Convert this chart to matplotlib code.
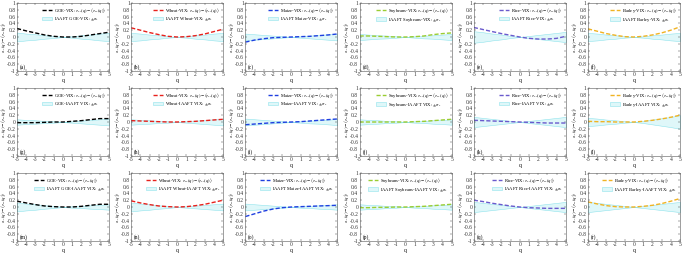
import numpy as np
import matplotlib
matplotlib.use('Agg')
from matplotlib import pyplot as plt

plt.rcParams['font.family'] = ['Liberation Serif', 'DejaVu Serif']
plt.rcParams['mathtext.fontset'] = 'stix'

# q values and curves
q = [-5, -4, -3, -2, -1, 0, 1, 2, 3, 4, 5]

names = ['GOE', 'Wheat', 'Maize', 'Soybeans', 'Rice', 'Barley']
colors = ['#000000', '#e8211c', '#1f3fe0', '#9acd32', '#6a5acd', '#f0b323']
letters = 'abcdefghijklmnopqr'

# row 1: original series
goe_1 = [0.25, 0.18, 0.12, 0.06, 0.02, 0.0, 0.0, 0.02, 0.06, 0.10, 0.14]
wheat_1 = [0.27, 0.20, 0.13, 0.07, 0.02, 0.0, 0.01, 0.04, 0.09, 0.16, 0.23]
maize_1 = [-0.15, -0.09, -0.05, -0.02, -0.01, 0.0, 0.01, 0.02, 0.04, 0.06, 0.09]
soy_1 = [0.03, 0.03, 0.02, 0.01, 0.0, 0.0, 0.01, 0.03, 0.07, 0.10, 0.12]
rice_1 = [0.28, 0.22, 0.16, 0.10, 0.05, 0.0, -0.04, -0.06, -0.06, -0.04, 0.02]
barley_1 = [0.24, 0.17, 0.10, 0.05, 0.01, 0.0, 0.02, 0.06, 0.12, 0.20, 0.30]

# row 2: VIX replaced by IAAFT surrogate
goe_2 = [-0.02, -0.02, -0.02, -0.01, 0.0, 0.0, 0.02, 0.04, 0.07, 0.10, 0.10]
wheat_2 = [0.04, 0.03, 0.02, 0.01, 0.0, 0.0, 0.01, 0.02, 0.04, 0.06, 0.08]
maize_2 = [-0.08, -0.06, -0.04, -0.02, -0.01, 0.0, 0.01, 0.03, 0.05, 0.07, 0.09]
soy_2 = [0.0, 0.0, 0.0, 0.0, 0.0, 0.0, 0.01, 0.02, 0.04, 0.06, 0.08]
rice_2 = [0.05, 0.04, 0.03, 0.02, 0.01, 0.0, -0.01, -0.02, -0.03, -0.03, -0.03]
barley_2 = [0.02, 0.01, 0.01, 0.0, 0.0, 0.0, 0.02, 0.05, 0.09, 0.14, 0.20]

# row 3: both IAAFT
goe_3 = [0.17, 0.12, 0.07, 0.03, 0.01, 0.0, 0.0, 0.02, 0.05, 0.08, 0.08]
wheat_3 = [0.18, 0.12, 0.07, 0.03, 0.01, 0.0, 0.01, 0.04, 0.08, 0.14, 0.20]
maize_3 = [-0.28, -0.20, -0.12, -0.06, -0.02, 0.0, 0.01, 0.02, 0.03, 0.04, 0.05]
soy_3 = [-0.02, -0.02, -0.01, -0.01, 0.0, 0.0, 0.01, 0.02, 0.04, 0.06, 0.08]
rice_3 = [0.20, 0.16, 0.11, 0.07, 0.03, 0.0, -0.02, -0.03, -0.04, -0.04, -0.04]
barley_3 = [0.15, 0.09, 0.04, 0.01, 0.0, 0.0, 0.02, 0.05, 0.10, 0.17, 0.25]

# sigma of the surrogate band
sig_goe_1 = [0.13, 0.10, 0.08, 0.05, 0.03, 0.0, 0.02, 0.05, 0.07, 0.10, 0.12]
sig_wheat_1 = [0.12, 0.10, 0.07, 0.05, 0.02, 0.0, 0.02, 0.05, 0.07, 0.10, 0.12]
sig_maize_1 = [0.10, 0.08, 0.06, 0.04, 0.02, 0.0, 0.02, 0.04, 0.06, 0.08, 0.10]
sig_soy_1 = [0.09, 0.07, 0.05, 0.04, 0.02, 0.0, 0.02, 0.04, 0.05, 0.07, 0.09]
sig_rice_1 = [0.17, 0.14, 0.10, 0.07, 0.03, 0.0, 0.03, 0.06, 0.09, 0.12, 0.15]
sig_barley_1 = [0.12, 0.10, 0.07, 0.05, 0.02, 0.0, 0.02, 0.05, 0.07, 0.10, 0.12]

sig_goe_2 = [0.08, 0.06, 0.05, 0.03, 0.02, 0.0, 0.02, 0.04, 0.06, 0.08, 0.10]
sig_wheat_2 = [0.08, 0.06, 0.05, 0.03, 0.02, 0.0, 0.02, 0.04, 0.06, 0.08, 0.10]
sig_maize_2 = [0.10, 0.08, 0.06, 0.04, 0.02, 0.0, 0.02, 0.04, 0.05, 0.07, 0.09]
sig_soy_2 = [0.08, 0.06, 0.05, 0.03, 0.02, 0.0, 0.02, 0.03, 0.05, 0.06, 0.08]
sig_rice_2 = [0.15, 0.12, 0.09, 0.06, 0.03, 0.0, 0.03, 0.06, 0.09, 0.12, 0.15]
sig_barley_2 = [0.12, 0.10, 0.07, 0.05, 0.02, 0.0, 0.03, 0.07, 0.11, 0.15, 0.20]

sig_goe_3 = [0.13, 0.10, 0.08, 0.05, 0.03, 0.0, 0.02, 0.03, 0.05, 0.06, 0.08]
sig_wheat_3 = [0.13, 0.10, 0.08, 0.05, 0.03, 0.0, 0.02, 0.04, 0.06, 0.08, 0.10]
sig_maize_3 = [0.10, 0.08, 0.06, 0.04, 0.02, 0.0, 0.02, 0.03, 0.05, 0.06, 0.08]
sig_soy_3 = [0.08, 0.06, 0.05, 0.03, 0.02, 0.0, 0.02, 0.03, 0.05, 0.06, 0.08]
sig_rice_3 = [0.15, 0.12, 0.09, 0.06, 0.03, 0.0, 0.03, 0.06, 0.09, 0.12, 0.15]
sig_barley_3 = [0.15, 0.12, 0.09, 0.06, 0.03, 0.0, 0.03, 0.06, 0.09, 0.12, 0.15]

curves = [[goe_1, wheat_1, maize_1, soy_1, rice_1, barley_1],
          [goe_2, wheat_2, maize_2, soy_2, rice_2, barley_2],
          [goe_3, wheat_3, maize_3, soy_3, rice_3, barley_3]]
sigmas = [[sig_goe_1, sig_wheat_1, sig_maize_1, sig_soy_1, sig_rice_1, sig_barley_1],
          [sig_goe_2, sig_wheat_2, sig_maize_2, sig_soy_2, sig_rice_2, sig_barley_2],
          [sig_goe_3, sig_wheat_3, sig_maize_3, sig_soy_3, sig_rice_3, sig_barley_3]]

ylab = r'$\tau_{xy}(q)-\langle\tau_{xy}(q)\rangle$'
band_fmt = ['IAAFT {0}-VIX: $\\pm\\sigma_s$',
            '{0}-IAAFT VIX: $\\pm\\sigma_s$',
            'IAAFT {0}-IAAFT VIX: $\\pm\\sigma_s$']

fig = plt.figure(figsize=(6.85, 2.58), dpi=100)

left0 = 17 / 685.
pitch = 114.2 / 685.
w = 92 / 685.
h = 68 / 258.
bottoms = [1 - 71 / 258., 1 - 156 / 258., 1 - 241 / 258.]

qa = np.array(q)
for r in range(3):
    for c in range(6):
        ax = fig.add_axes([left0 + c * pitch, bottoms[r], w, h])
        y = np.array(curves[r][c])
        s = np.array(sigmas[r][c])
        ax.plot(qa, y, '--', color=colors[c], lw=1.0, dashes=(3, 1.5),
                label=names[c] + '-VIX: ' + ylab)
        ax.fill_between(qa, -s, s, facecolor='#dff7f9', edgecolor='#8fe3ec',
                        lw=0.4, label=band_fmt[r].format(names[c]))
        ax.set_xlim(-5, 5)
        ax.set_ylim(-1, 1)
        ax.set_xticks(range(-5, 6))
        ax.set_yticks(np.arange(-1, 1.01, 0.2))
        ax.set_yticklabels(['-1', '-0.8', '-0.6', '-0.4', '-0.2', '0',
                            '0.2', '0.4', '0.6', '0.8', '1'])
        ax.set_xticklabels([str(v) for v in range(-5, 6)])
        ax.tick_params(direction='in', top=True, right=True, labelsize=4,
                       length=1.5, width=0.3, pad=1.0, colors='#333333')
        for sp in ax.spines.values():
            sp.set_linewidth(0.4)
            sp.set_color('#555555')
        ax.set_xlabel('q', fontsize=4, labelpad=0.5)
        ax.set_ylabel(ylab, fontsize=3.4)
        ax.yaxis.set_label_coords(-0.098, 0.5)
        ax.text(-4.7, -0.92, '(' + letters[r * 6 + c] + ')', fontsize=4)
        ax.legend(loc='upper right', fontsize=3.3, frameon=False,
                  handlelength=2.2, borderpad=0.2, labelspacing=0.15,
                  handletextpad=0.4)

plt.savefig('out.png', dpi=100)
